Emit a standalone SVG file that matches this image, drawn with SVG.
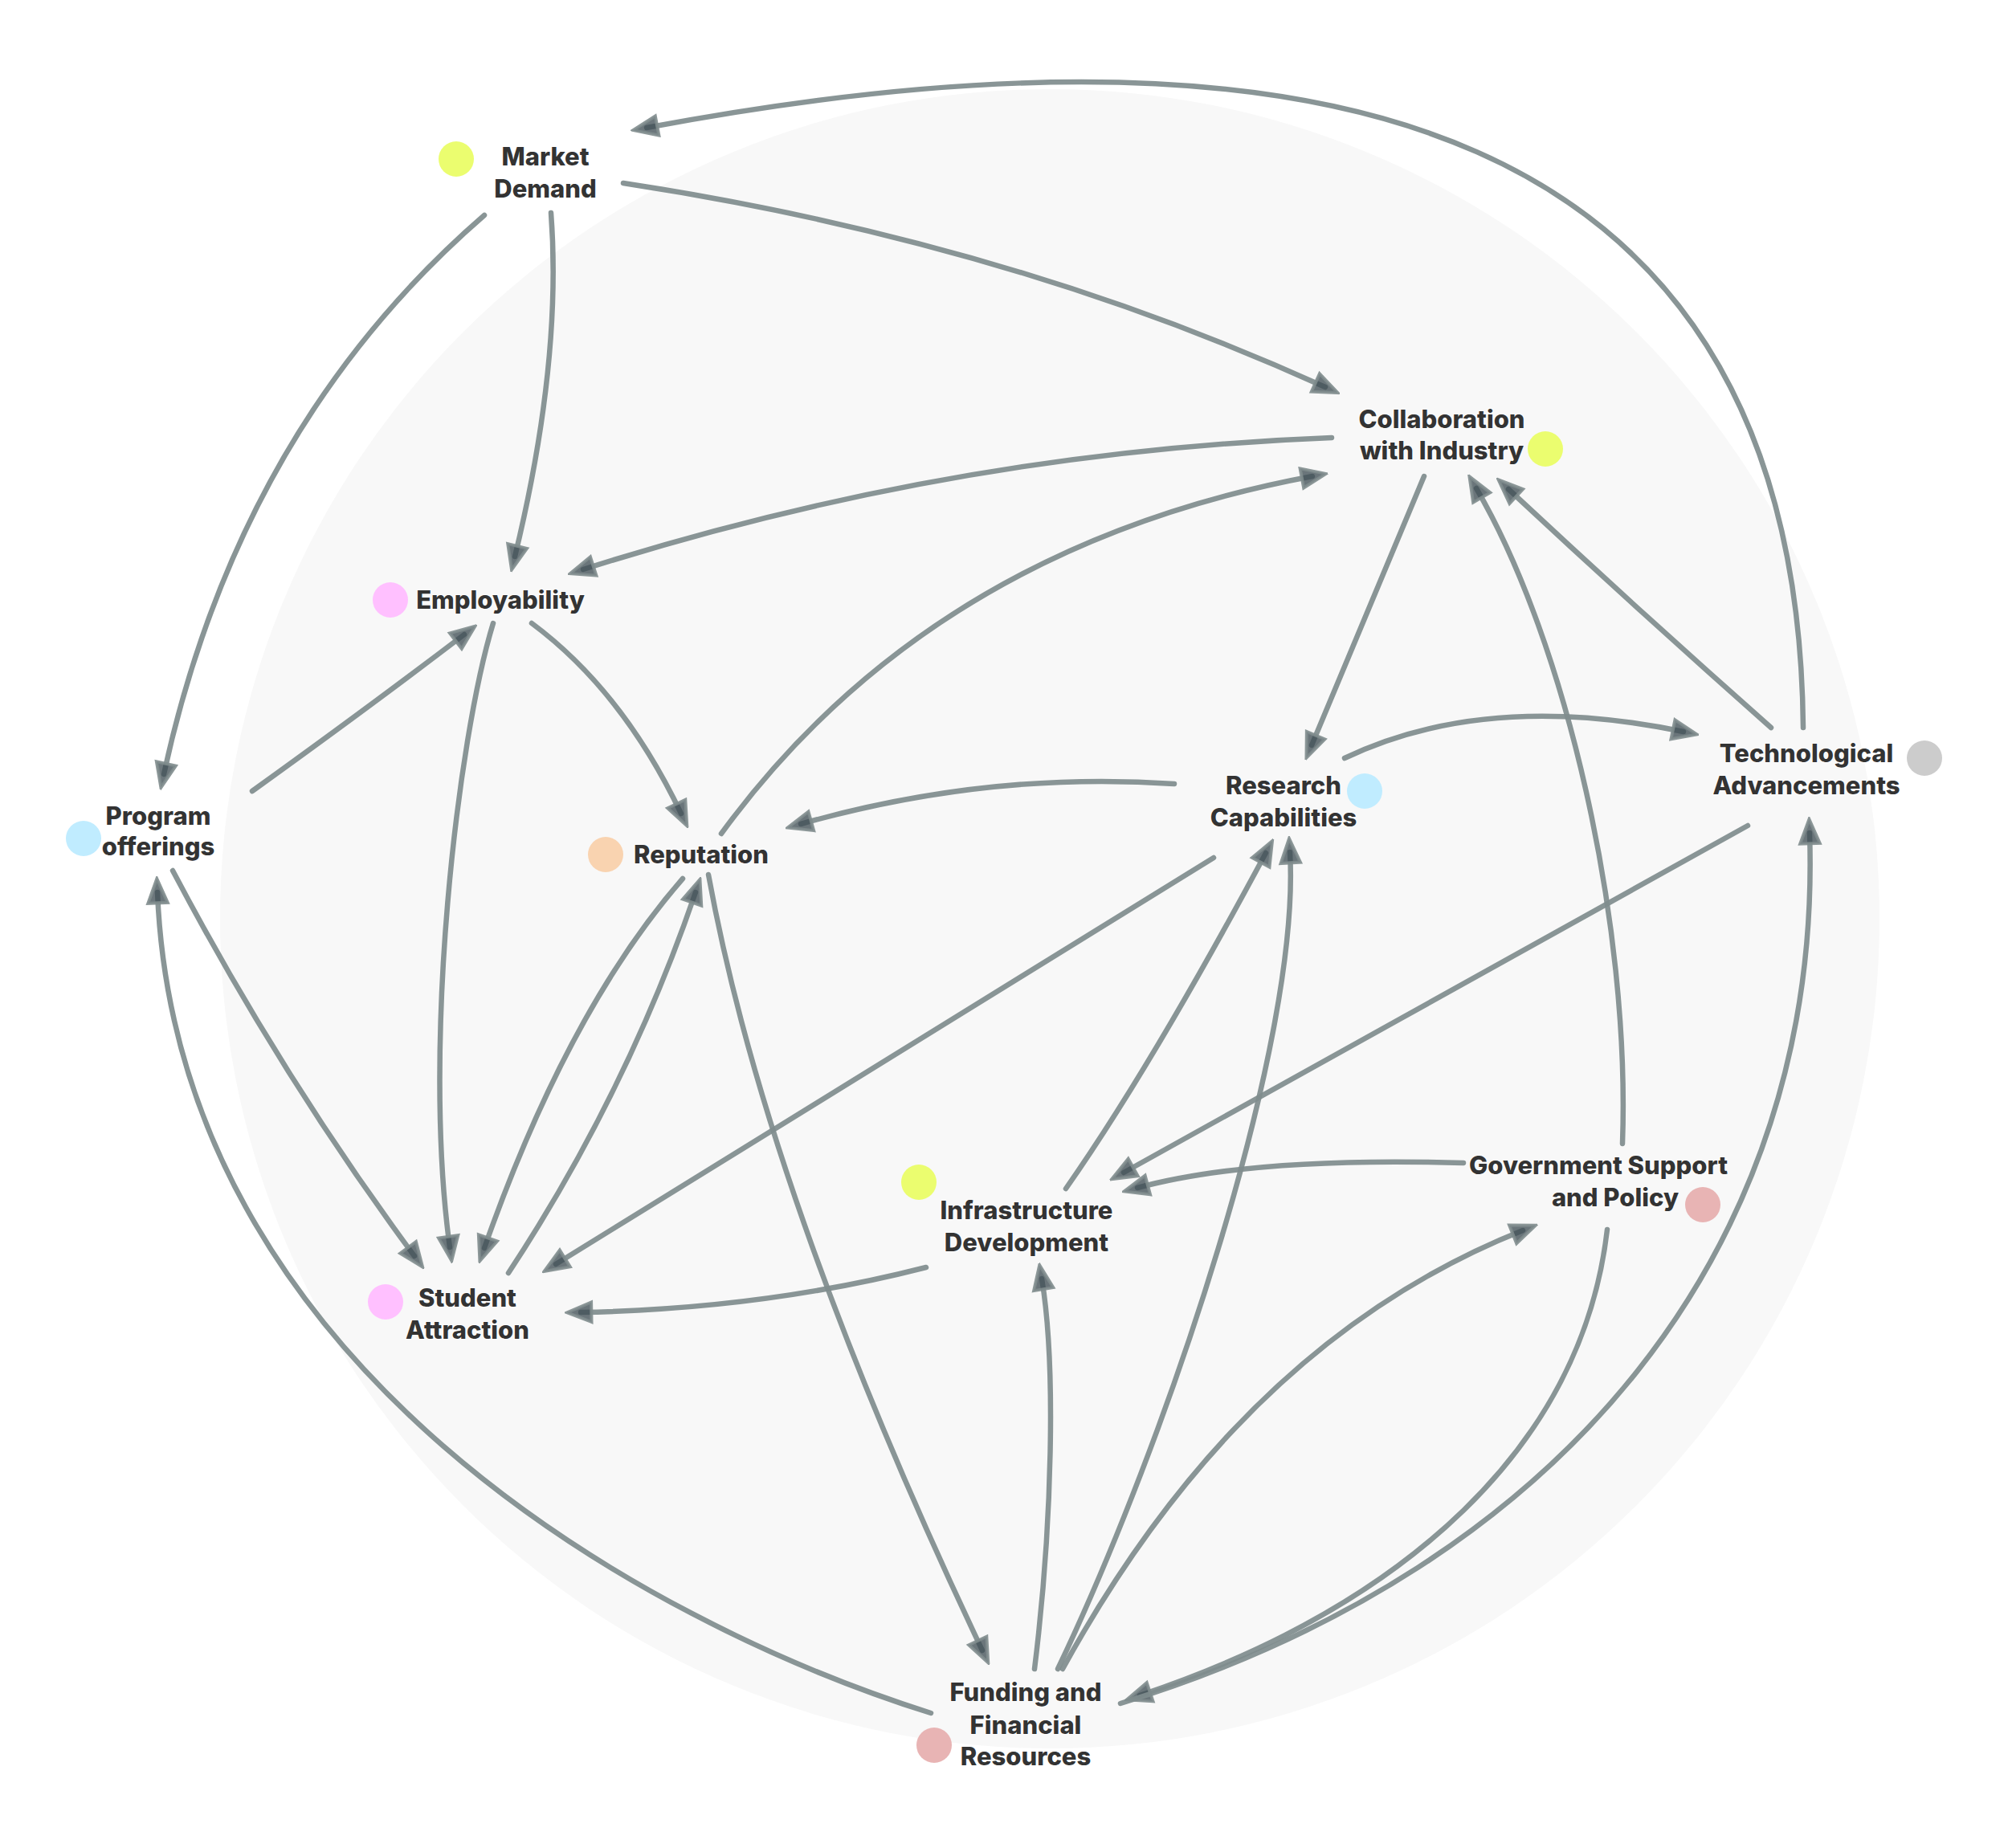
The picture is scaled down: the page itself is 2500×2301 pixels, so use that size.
<svg xmlns="http://www.w3.org/2000/svg" width="2500" height="2301" viewBox="0 0 2500 2301">
<defs>
<style>
.edge{fill:none;stroke:#7f8c8d;stroke-width:6.5;stroke-linecap:round;stroke-opacity:0.92;marker-end:url(#ah)}
.lbl{font-family:Inter,"Noto Sans","Liberation Sans",sans-serif;font-weight:800;font-size:31px;fill:#333333;text-anchor:middle;stroke:#ffffff;stroke-width:2;stroke-opacity:0.6;paint-order:stroke}
</style>
<marker id="ah" viewBox="0 0 10 10" refX="4.5" refY="5" markerWidth="36" markerHeight="36" markerUnits="userSpaceOnUse" orient="auto">
<path d="M0.8,1.6 L9.2,5 L0.8,8.4 Z" fill="#3b4a50" fill-opacity="0.75" stroke="#7f8c8d" stroke-width="1.1" stroke-opacity="0.9" stroke-linejoin="miter"/>
</marker>
</defs>
<rect width="2500" height="2301" fill="#ffffff"/>
<circle cx="1307" cy="1144" r="1033" fill="#f8f8f8"/>
<g id="connectors">
<path class="edge" d="M2245,906 C2238,150 1650,0 805,159"/>
<path class="edge" d="M776,228 Q1250,300 1650,482"/>
<path class="edge" d="M686,265 Q700,450 641,693"/>
<path class="edge" d="M603,268 Q298,532 204,964"/>
<path class="edge" d="M1658,545 Q1184,563 726,709"/>
<path class="edge" d="M898,1038 Q1158,682 1634,593"/>
<path class="edge" d="M1773,593 L1633,928"/>
<path class="edge" d="M2020,1424 C2030,1150 1950,800 1838,608"/>
<path class="edge" d="M2205,906 Q2040,760 1878,609"/>
<path class="edge" d="M662,776 Q775,860 848,1013"/>
<path class="edge" d="M614,776 C570,920 525,1300 560,1553"/>
<path class="edge" d="M314,985 Q460,880 578,790"/>
<path class="edge" d="M215,1084 Q350,1340 516,1564"/>
<path class="edge" d="M1674,944 Q1850,860 2096,911"/>
<path class="edge" d="M1462,976 Q1230,960 997,1026"/>
<path class="edge" d="M1511,1068 L692,1574"/>
<path class="edge" d="M850,1094 Q707,1258 603,1554"/>
<path class="edge" d="M633,1585 Q780,1362 866,1111"/>
<path class="edge" d="M882,1089 Q955,1490 1223,2055"/>
<path class="edge" d="M2176,1028 L1399,1460"/>
<path class="edge" d="M1822,1448 Q1560,1440 1416,1479"/>
<path class="edge" d="M1327,1480 Q1434,1327 1576,1062"/>
<path class="edge" d="M1317,2078 C1450,1800 1620,1300 1606,1061"/>
<path class="edge" d="M1153,1578 Q950,1630 723,1634"/>
<path class="edge" d="M1288,2078 C1310,1900 1315,1700 1297,1592"/>
<path class="edge" d="M1323,2078 Q1546,1671 1896,1532"/>
<path class="edge" d="M2001,1531 C1970,1800 1750,2000 1419,2111"/>
<path class="edge" d="M1395,2121 C1950,1950 2270,1550 2253,1037"/>
<path class="edge" d="M1159,2133 C800,2020 220,1700 196,1111"/>
</g>
<g id="node-market-demand">
<circle cx="568" cy="198" r="22" fill="#ebfd6f"/>
<text class="lbl" x="679" y="206">Market</text>
<text class="lbl" x="679" y="246">Demand</text>
</g>
<g id="node-collaboration">
<circle cx="1924" cy="559" r="22" fill="#ebfd6f"/>
<text class="lbl" x="1795" y="533">Collaboration</text>
<text class="lbl" x="1795" y="572">with Industry</text>
</g>
<g id="node-employability">
<circle cx="486" cy="747" r="22" fill="#ffc0ff"/>
<text class="lbl" x="623" y="758">Employability</text>
</g>
<g id="node-program-offerings">
<circle cx="104" cy="1044" r="22" fill="#c0ecff"/>
<text class="lbl" x="197" y="1027">Program</text>
<text class="lbl" x="197" y="1065">offerings</text>
</g>
<g id="node-reputation">
<circle cx="754" cy="1064" r="22" fill="#f9d3b0"/>
<text class="lbl" x="873" y="1075">Reputation</text>
</g>
<g id="node-research">
<circle cx="1699" cy="985" r="22" fill="#c0ecff"/>
<text class="lbl" x="1598" y="989">Research</text>
<text class="lbl" x="1598" y="1029">Capabilities</text>
</g>
<g id="node-technological">
<circle cx="2396" cy="944" r="22" fill="#cccccc"/>
<text class="lbl" x="2249" y="949">Technological</text>
<text class="lbl" x="2249" y="989">Advancements</text>
</g>
<g id="node-infrastructure">
<circle cx="1144" cy="1472" r="22" fill="#ebfd6f"/>
<text class="lbl" x="1278" y="1518">Infrastructure</text>
<text class="lbl" x="1278" y="1558">Development</text>
</g>
<g id="node-government">
<circle cx="2120" cy="1500" r="22" fill="#e8b4b4"/>
<text class="lbl" x="1990" y="1462">Government Support</text>
<text class="lbl" x="2011" y="1502">and Policy</text>
</g>
<g id="node-student-attraction">
<circle cx="480" cy="1621" r="22" fill="#ffc0ff"/>
<text class="lbl" x="582" y="1627">Student</text>
<text class="lbl" x="582" y="1667">Attraction</text>
</g>
<g id="node-funding">
<circle cx="1163" cy="2173" r="22" fill="#e8b4b4"/>
<text class="lbl" x="1277" y="2118">Funding and</text>
<text class="lbl" x="1277" y="2159">Financial</text>
<text class="lbl" x="1277" y="2198">Resources</text>
</g>
</svg>
